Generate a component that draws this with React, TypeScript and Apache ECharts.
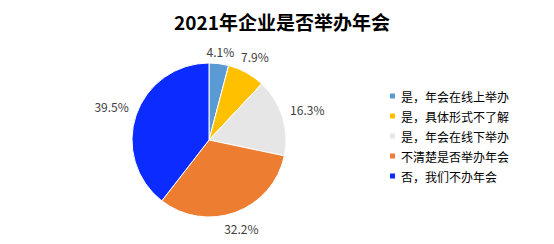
import React, { useEffect, useRef } from "react";
import * as echarts from "echarts";

const titleText = "2021年企业是否举办年会";
const categories = [
  "是，年会在线上举办",
  "是，具体形式不了解",
  "是，年会在线下举办",
  "不清楚是否举办年会",
  "否，我们不办年会",
];
const values = [4.1, 7.9, 16.3, 32.2, 39.5];
const colors = ["#5B9BD5", "#FFC000", "#E7E6E6", "#ED7D31", "#0B2BFF"];

const CX = 209;
const CY = 140;
const R = 77;

export default function App() {
  const ref = useRef<HTMLDivElement>(null);
  useEffect(() => {
    document.body.style.margin = "0";
    const chart = echarts.init(ref.current!, null, { renderer: "svg" });
    const total = values.reduce((a, b) => a + b, 0);
    const midAngles: number[] = [];
    let acc = 0;
    values.forEach((v) => {
      midAngles.push(((acc + v / 2) / total) * Math.PI * 2);
      acc += v;
    });
    chart.setOption({
      animation: false,
      color: colors,
      title: {
        text: titleText,
        left: 277,
        textAlign: "center",
        top: 7,
        textStyle: {
          fontFamily: "Noto Sans CJK SC",
          fontSize: 19,
          fontWeight: "bold",
          color: "#000",
        },
      },
      legend: {
        orient: "vertical",
        left: 388,
        top: 90,
        padding: 0,
        itemWidth: 7,
        itemHeight: 7,
        itemGap: 8,
        icon: "rect",
        textStyle: {
          fontFamily: "Noto Sans CJK SC",
          fontSize: 12,
          color: "#000",
        },
        data: categories,
      },
      series: [
        {
          type: "pie",
          center: [CX, CY],
          radius: R,
          startAngle: 90,
          clockwise: true,
          itemStyle: { borderColor: "#fff", borderWidth: 1 },
          label: {
            show: true,
            position: "outside",
            formatter: "{c}%",
            fontFamily: "Noto Sans CJK SC",
            fontSize: 12,
            color: "#404040",
          },
          labelLine: { show: false },
          labelLayout: (params: any) => {
            const a = midAngles[params.dataIndex];
            const ux = Math.sin(a);
            const uy = -Math.cos(a);
            const w = params.labelRect.width;
            const h = params.labelRect.height;
            const ext = Math.abs(ux) * (w / 2 + 4) + Math.abs(uy) * (h / 2);
            const d = R + 4 + ext;
            return {
              x: CX + ux * d,
              y: CY + uy * d,
              align: "center",
              verticalAlign: "middle",
            };
          },
          data: categories.map((name, i) => ({ name, value: values[i] })),
        },
      ],
    });
    return () => chart.dispose();
  }, []);
  return <div ref={ref} style={{ width: 554, height: 244 }} />;
}
